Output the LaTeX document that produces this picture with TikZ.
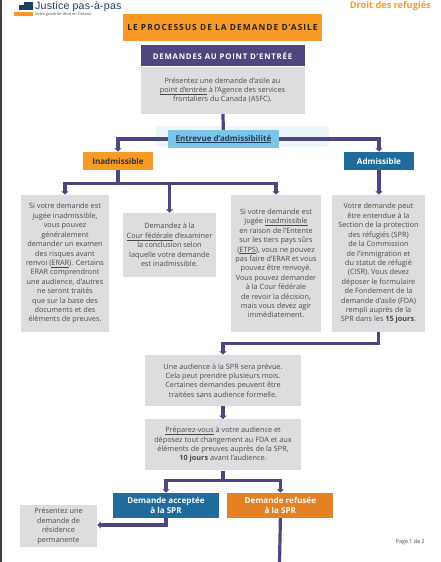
\documentclass[tikz,border=0pt]{standalone}
\usepackage{xcolor}
\usepackage{fontspec}
\setmainfont{Open Sans}
\newfontfamily\brandfont[LetterSpace=2]{Liberation Sans}
\usetikzlibrary{arrows.meta,positioning}
\definecolor{planOrange}{HTML}{F89B26}
\definecolor{planPurple}{HTML}{4F4680}
\definecolor{planGrey}{HTML}{DCDDDE}
\definecolor{planBlue}{HTML}{1E6B9C}
\definecolor{planBurnt}{HTML}{E38124}
\definecolor{planSky}{HTML}{7DC4E6}
\definecolor{planText}{HTML}{4A4A4C}
\definecolor{planNavy}{HTML}{1F3F5F}
\newcommand{\ulined}[1]{\underline{\smash{#1}\vphantom{H}}}

\begin{document}
\begin{tikzpicture}[
    x=1pt, y=-1pt,
    infobox/.style={rectangle, fill=planGrey, text=planText, align=center, font=\fontsize{7.3}{9.4}\selectfont, inner sep=0pt},
    choice/.style={rectangle, fill=#1, text=white, align=center, inner sep=0pt, font=\fontsize{8.1}{10}\selectfont\bfseries},
    arrow/.style={-{Latex[length=3.5pt,width=8pt]}, line width=3.2pt, draw=planPurple},
    link/.style={line width=3.2pt, draw=planPurple}
]
\useasboundingbox (0,0) rectangle (440,562);
\fill[black!75] (0,0) rectangle (2,562);

% header
\node[inner sep=0pt, minimum width=9pt, minimum height=3pt, fill=planNavy, anchor=north east] (logoa) at (33,1.5) {};
\node[inner sep=0pt, minimum width=14pt, minimum height=5pt, fill=planNavy, anchor=north east] (logob) at (33,5) {};
\node[inner sep=0pt, minimum width=19pt, minimum height=4pt, fill=planOrange, anchor=north west] (logoc) at (14,12) {};
\node[anchor=west, inner sep=0pt, text=planNavy, font=\fontsize{10.6}{12}\selectfont\brandfont] (brand) at (35,6.5) {Justice pas-à-pas};
\node[anchor=west, inner sep=0pt, text=planText, font=\fontsize{3.9}{5}\selectfont] (tagline) at (35,14) {Votre guide de droit en Ontario};
\node[anchor=east, inner sep=0pt, text=planOrange, font=\fontsize{9.2}{10}\selectfont\bfseries] (topic) at (431,6) {Droit des refugiés};

\node[rectangle, fill=planOrange, text=black!85, inner sep=0pt, minimum width=199pt, minimum height=27pt, font=\fontsize{8.4}{10}\selectfont\bfseries\addfontfeature{LetterSpace=12}] (title) at (222.5,27.5) {LE PROCESSUS DE LA DEMANDE D’ASILE};
\node[rectangle, fill=planPurple, text=white, inner sep=0pt, minimum width=164pt, minimum height=21pt, font=\fontsize{7.8}{9}\selectfont\bfseries\addfontfeature{LetterSpace=10}, below=4pt of title] (entry) {DEMANDES AU POINT D’ENTRÉE};
\node[infobox, minimum width=164pt, minimum height=47pt, below=0pt of entry] (present) {Présentez une demande d’asile au\\\ulined{point d’entrée} à l’Agence des services\\frontaliers du Canada (ASFC).};

% admissibility
\node[rectangle, fill=planSky!15, inner sep=0pt, minimum width=173pt, minimum height=21pt] (band) at (242.5,136.5) {};
\node[rectangle, fill=planSky, text=planNavy, inner sep=0pt, minimum width=111pt, minimum height=18pt, text height=6pt, text depth=2pt, font=\fontsize{8}{9}\selectfont\bfseries] (interview) at (223.5,139) {\ulined{Entrevue d’admissibilité}};
\node[choice=planOrange, text=black!80, minimum width=70pt, minimum height=18pt] (inadm) at (118,161) {Inadmissible};
\node[choice=planBlue, minimum width=70pt, minimum height=18pt] (adm) at (379,161) {Admissible};

\node[infobox, minimum width=88pt, minimum height=137pt] (risk) at (65,263.5) {Si votre demande est\\jugée inadmissible,\\vous pouvez\\généralement\\demander un examen\\des risques avant\\renvoi (\ulined{ERAR}). Certains\\ERAR comprendront\\une audience, d’autres\\ne seront traités\\que sur la base des\\documents et des\\éléments de preuves.};
\node[infobox, minimum width=93pt, minimum height=64pt] (court) at (169.5,245) {Demandez à la\\\ulined{Cour fédérale} d’examiner\\la conclusion selon\\laquelle votre demande\\est inadmissible.};
\node[infobox, minimum width=90pt, minimum height=137pt] (safe) at (276,263.5) {Si votre demande est\\jugée \ulined{inadmissible}\\en raison de l’Entente\\sur les tiers pays sûrs\\(\ulined{ETPS}), vous ne pouvez\\pas faire d’ERAR et vous\\pouvez être renvoyé.\\Vous pouvez demander\\à la Cour fédérale\\de revoir la décision,\\mais vous devez agir\\immédiatement.};
\node[infobox, minimum width=93pt, minimum height=137pt] (heard) at (378.5,263.5) {Votre demande peut\\être entendue à la\\Section de la protection\\des réfugiés (SPR)\\de la Commission\\de l’immigration et\\du statut de réfugié\\(CISR). Vous devez\\déposer le formulaire\\de Fondement de la\\demande d’asile (FDA)\\rempli auprès de la\\SPR dans les \textbf{15 jours}.};

% hearing
\node[infobox, minimum width=156pt, minimum height=51pt] (hearing) at (223,380.5) {Une audience à la SPR sera prévue.\\Cela peut prendre plusieurs mois.\\Certaines demandes peuvent être\\traitées sans audience formelle.};
\node[infobox, minimum width=156pt, minimum height=51pt, below=13pt of hearing] (prepare) {\ulined{Préparez-vous} à votre audience et\\déposez tout changement au FDA et aux\\éléments de preuves auprès de la SPR,\\\textbf{10 jours} avant l’audience.};
\node[choice=planBlue, minimum width=106pt, minimum height=25pt] (accept) at (166,505.5) {Demande acceptée\\à la SPR};
\node[choice=planBurnt, minimum width=106pt, minimum height=25pt, right=8pt of accept] (refuse) {Demande refusée\\à la SPR};
\node[infobox, minimum width=77pt, minimum height=42pt] (resident) at (58.5,526) {Présentez une\\demande de\\résidence\\permanente};
\node[anchor=east, inner sep=0pt, text=planText, font=\fontsize{5.4}{6}\selectfont] (pagenum) at (425,542) {Page 1 de 2};
\coordinate (down) at (279.5,562);

\draw[link] (present) -- (interview);
\draw[arrow] (interview.west) -| (inadm.north);
\draw[arrow] (interview.east) -| (adm.north);
\draw[link] (inadm.south) -- ++(0,13) coordinate (split);
\draw[arrow] (split) -| (risk.north);
\draw[arrow] (split) -| (safe.north);
\draw[arrow] (court.north |- split) -- (court.north);
\draw[arrow] (adm.south) -- (adm.south |- heard.north);
\draw[arrow] (heard.south) |- ++(-78,11) -| (hearing.north);
\draw[arrow] (hearing) -- (prepare);
\draw[link] (prepare.south) -- ++(0,10) coordinate (fork);
\draw[arrow] (fork) -| (accept.north);
\draw[arrow] (fork) -| (refuse.north);
\draw[arrow] (accept.south) |- (resident.east |- 0,525);
\draw[link] (refuse.south) -- (down);
\end{tikzpicture}
\end{document}
